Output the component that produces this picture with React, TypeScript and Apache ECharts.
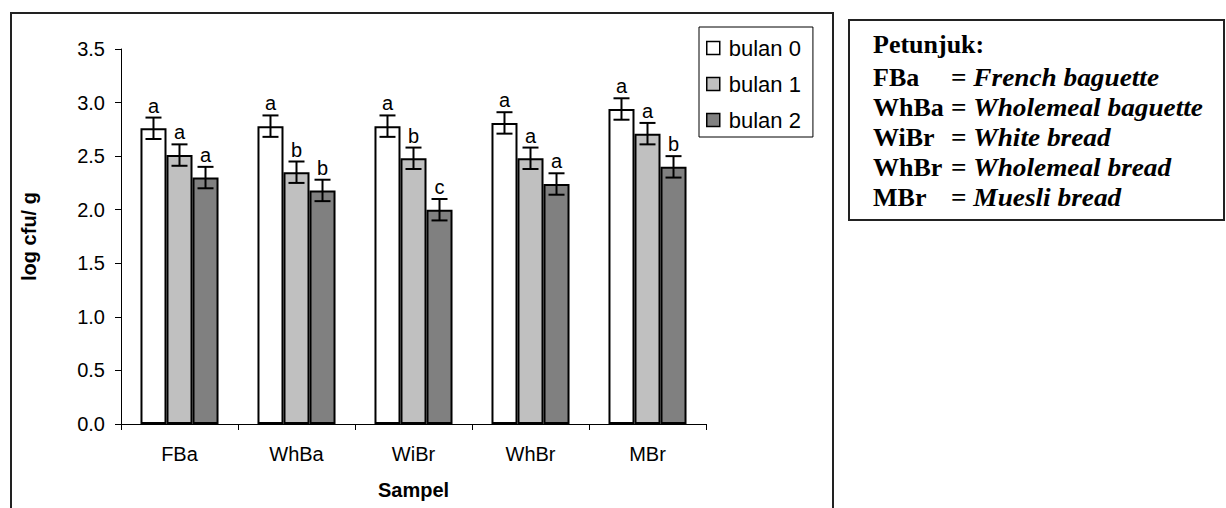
import React, { useEffect, useRef } from "react";
import * as echarts from "echarts";

const categories = ["FBa", "WhBa", "WiBr", "WhBr", "MBr"];
const seriesNames = ["bulan 0", "bulan 1", "bulan 2"];
const bulan0 = [2.76, 2.78, 2.78, 2.81, 2.94];
const bulan1 = [2.51, 2.35, 2.48, 2.48, 2.71];
const bulan2 = [2.3, 2.18, 2.0, 2.24, 2.4];
const err0 = [0.1, 0.1, 0.1, 0.1, 0.1];
const err1 = [0.1, 0.1, 0.1, 0.1, 0.1];
const err2 = [0.1, 0.1, 0.1, 0.1, 0.1];
const letters0 = ["a", "a", "a", "a", "a"];
const letters1 = ["a", "b", "b", "a", "a"];
const letters2 = ["a", "b", "c", "a", "b"];
const barColors = ["#ffffff", "#c0c0c0", "#808080"];
const yAxisTitle = "log cfu/ g";
const xAxisTitle = "Sampel";
const noteTitle = "Petunjuk:";
const noteCodes = ["FBa", "WhBa", "WiBr", "WhBr", "MBr"];
const noteNames = [
  "French baguette",
  "Wholemeal baguette",
  "White bread",
  "Wholemeal bread",
  "Muesli bread",
];

const values = [bulan0, bulan1, bulan2];
const errors = [err0, err1, err2];
const letters = [letters0, letters1, letters2];
const CAT_GAP = 0.333;
const SANS = "'Liberation Sans', Arial, sans-serif";
const SERIF = "'Liberation Serif', 'Times New Roman', serif";
const NOTE_FS = 26;

export default function App() {
  const ref = useRef<HTMLDivElement>(null);
  useEffect(() => {
    if (!ref.current) return;
    const chart = echarts.init(ref.current, null, { renderer: "svg" });

    const barSeries = values.map((vals, s) => ({
      type: "bar",
      name: seriesNames[s],
      data: vals,
      barGap: "0%",
      barCategoryGap: "33.3%",
      itemStyle: { color: barColors[s], borderColor: "#000", borderWidth: 2 },
      z: 2,
    }));

    const errSeries = values.map((vals, s) => ({
      type: "custom",
      name: seriesNames[s] + " err",
      z: 5,
      encode: { x: 0, y: [1, 2] },
      data: vals.map((v, i) => [i, v - errors[s][i], v + errors[s][i]]),
      renderItem: (params: any, api: any) => {
        const idx = api.value(0);
        const lo = api.coord([idx, api.value(1)]);
        const hi = api.coord([idx, api.value(2)]);
        const band = api.size([1, 0])[0];
        const barW = (band * (1 - CAT_GAP)) / 3;
        const cx = lo[0] + (s - 1) * barW;
        const cap = 8;
        const ls = { stroke: "#000", lineWidth: 2 };
        return {
          type: "group",
          children: [
            { type: "line", shape: { x1: cx, y1: hi[1], x2: cx, y2: lo[1] }, style: ls },
            { type: "line", shape: { x1: cx - cap, y1: hi[1], x2: cx + cap, y2: hi[1] }, style: ls },
            { type: "line", shape: { x1: cx - cap, y1: lo[1], x2: cx + cap, y2: lo[1] }, style: ls },
            {
              type: "text",
              x: cx,
              y: hi[1] - 2,
              style: {
                text: letters[s][params.dataIndex],
                textAlign: "center",
                textVerticalAlign: "bottom",
                fontSize: 20,
                fontFamily: SANS,
                fill: "#000",
              },
            },
          ],
        };
      },
    }));

    const rowY = (i: number) => (i === 0 ? 44 : 77 + (i - 1) * 30);
    const noteChildren: any[] = [
      {
        type: "text",
        x: 873,
        y: rowY(0),
        style: {
          text: noteTitle,
          fontFamily: SERIF,
          fontWeight: "bold",
          fontSize: NOTE_FS,
          fill: "#000",
          textVerticalAlign: "middle",
        },
      },
    ];
    noteCodes.forEach((code, i) => {
      const y = rowY(i + 1);
      noteChildren.push({
        type: "text",
        x: 873,
        y,
        style: {
          text: code,
          fontFamily: SERIF,
          fontWeight: "bold",
          fontSize: NOTE_FS,
          fill: "#000",
          textVerticalAlign: "middle",
        },
      });
      noteChildren.push({
        type: "text",
        x: 951,
        y,
        scaleX: 1.05,
        originX: 0,
        originY: 0,
        style: {
          text: "{b|= }{bi|" + noteNames[i] + "}",
          fontFamily: SERIF,
          fontSize: NOTE_FS,
          fill: "#000",
          textVerticalAlign: "middle",
          rich: {
            b: { fontFamily: SERIF, fontWeight: "bold", fontSize: NOTE_FS, fill: "#000" },
            bi: {
              fontFamily: SERIF,
              fontWeight: "bold",
              fontStyle: "italic",
              fontSize: NOTE_FS,
              fill: "#000",
            },
          },
        },
      });
    });

    chart.setOption({
      animation: false,
      backgroundColor: "#fff",
      grid: { left: 121, top: 49, width: 585, height: 375, containLabel: false },
      legend: {
        orient: "vertical",
        left: 699,
        top: 27,
        data: seriesNames,
        icon: "rect",
        itemWidth: 13,
        itemHeight: 13,
        itemGap: 14,
        itemStyle: { borderWidth: 1.5, borderColor: "#000" },
        padding: [10, 12, 6, 7],
        borderColor: "#000",
        borderWidth: 1,
        backgroundColor: "#fff",
        textStyle: { fontSize: 22, fontFamily: SANS, color: "#000", lineHeight: 22, padding: [0, 0, 0, 4] },
      },
      xAxis: {
        type: "category",
        data: categories,
        axisLine: { lineStyle: { color: "#000", width: 1 } },
        axisTick: { show: true, length: 6, alignWithLabel: false, lineStyle: { color: "#000" } },
        axisLabel: { fontSize: 20, fontFamily: SANS, color: "#000", margin: 20 },
        name: xAxisTitle,
        nameLocation: "middle",
        nameGap: 56,
        nameTextStyle: { fontSize: 20, fontWeight: "bold", fontFamily: SANS, color: "#000" },
      },
      yAxis: {
        type: "value",
        min: 0,
        max: 3.5,
        interval: 0.5,
        splitLine: { show: false },
        axisLine: { show: true, lineStyle: { color: "#000", width: 1 } },
        axisTick: { show: true, length: 6, lineStyle: { color: "#000" } },
        axisLabel: {
          fontSize: 20,
          fontFamily: SANS,
          color: "#000",
          margin: 16,
          formatter: (v: number) => v.toFixed(1),
        },
        name: yAxisTitle,
        nameLocation: "middle",
        nameGap: 82,
        nameRotate: 90,
        nameTextStyle: { fontSize: 20, fontWeight: "bold", fontFamily: SANS, color: "#000" },
      },
      series: [...barSeries, ...errSeries],
      graphic: [
        {
          type: "rect",
          shape: { x: 11, y: 13, width: 822, height: 520 },
          style: { fill: "none", stroke: "#222", lineWidth: 2 },
          z: 0,
          silent: true,
        },
        {
          type: "rect",
          shape: { x: 849, y: 20, width: 375, height: 200 },
          style: { fill: "none", stroke: "#222", lineWidth: 2 },
          silent: true,
        },
        { type: "group", children: noteChildren },
      ],
    });
    return () => chart.dispose();
  }, []);
  return (
    <div
      ref={ref}
      style={{ position: "fixed", left: 0, top: 0, width: 1226, height: 508, background: "#fff" }}
    />
  );
}
